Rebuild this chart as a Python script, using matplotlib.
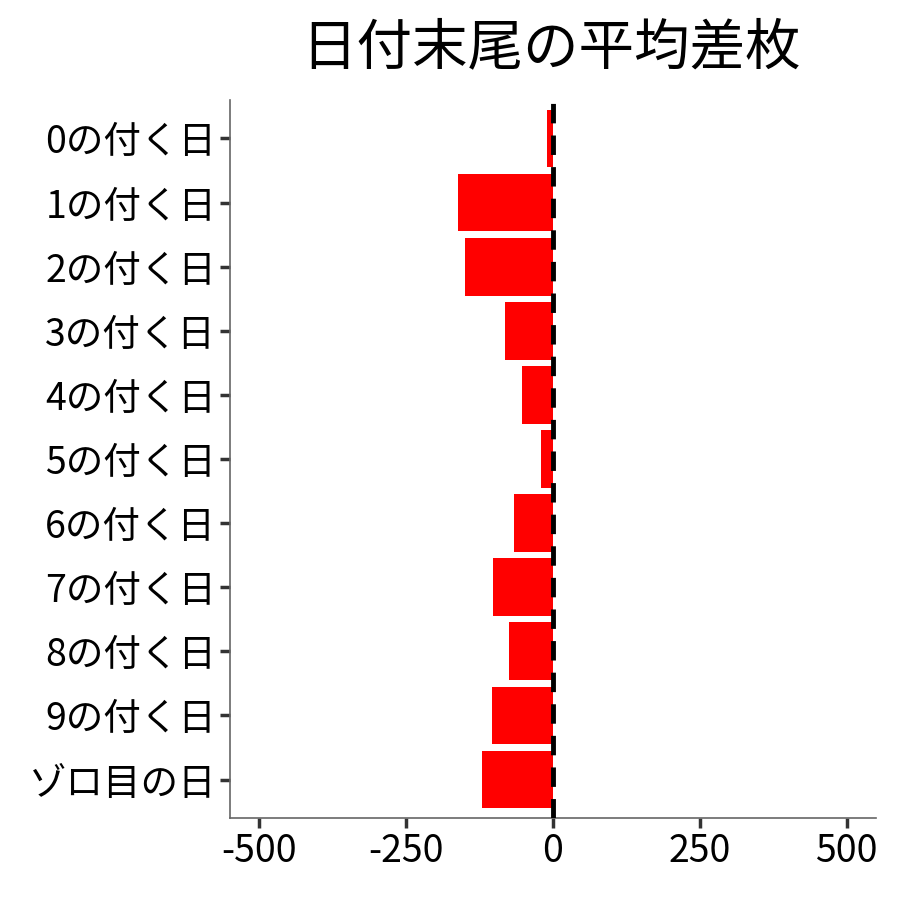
import numpy as np
import matplotlib.pyplot as plt

plt.rcParams['font.family'] = ['Noto Sans CJK JP', 'DejaVu Sans']

categories = ['0の付く日', '1の付く日', '2の付く日', '3の付く日', '4の付く日',
              '5の付く日', '6の付く日', '7の付く日', '8の付く日', '9の付く日', 'ゾロ目の日']
diffs = [-11, -161, -150, -82, -53, -21, -66, -102, -75, -104, -121]
xticks = [-500, -250, 0, 250, 500]

fig = plt.figure(figsize=(9, 9), dpi=100)
ax = fig.add_axes([0.2556, 0.0911, 0.7178, 0.7978])

y = np.arange(len(categories))
ax.barh(y, diffs, height=0.9, color='#ff0000', zorder=2)
ax.axvline(0, color='black', linestyle=(0, (4, 2.5)), linewidth=3.5, zorder=3)

ax.set_xlim(-550, 550)
ax.set_ylim(len(categories) - 0.4, -0.6)
ax.set_yticks(y)
ax.set_yticklabels(categories)
ax.set_xticks(xticks)
ax.set_xticklabels([str(v) for v in xticks])

for s in ['top', 'right']:
    ax.spines[s].set_visible(False)
for s in ['left', 'bottom']:
    ax.spines[s].set_color('#666666')
    ax.spines[s].set_linewidth(1.2)
ax.tick_params(axis='both', colors='#333333', length=7, width=2.5,
               labelsize=27, labelcolor='black', pad=3)

fig.suptitle('日付末尾の平均差枚', fontsize=40, x=0.612, y=0.978)

fig.savefig('out.png')
